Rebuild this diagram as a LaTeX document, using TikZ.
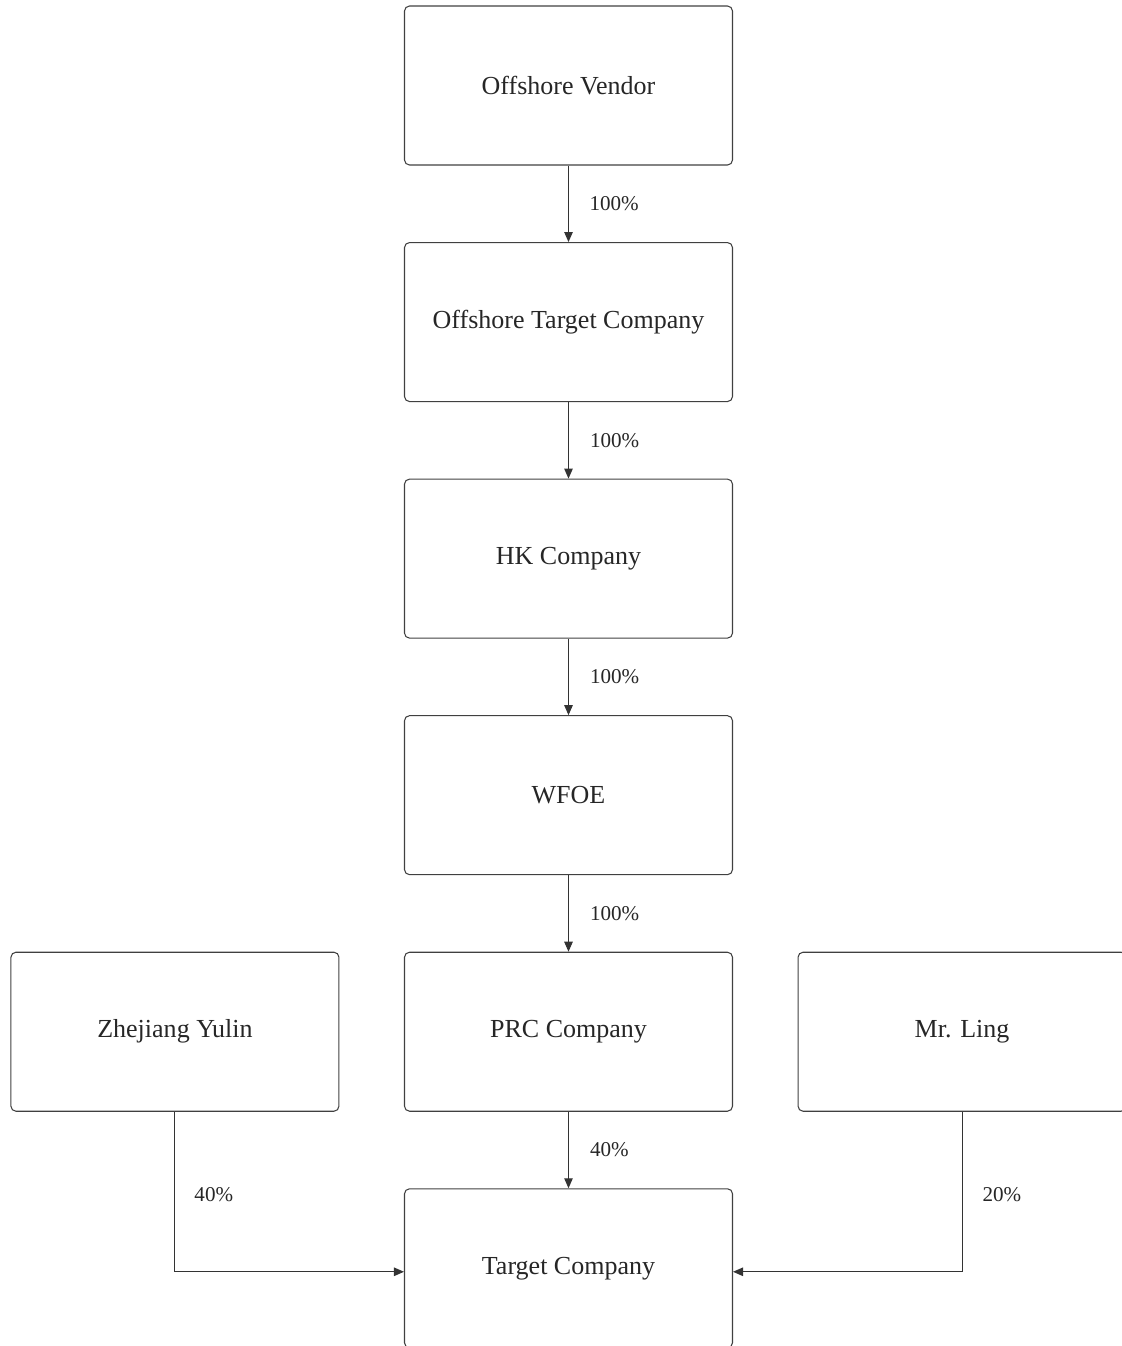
\documentclass[tikz,border=0pt]{standalone}
\usepackage{fontspec}
\setmainfont{Liberation Serif}
\usetikzlibrary{arrows.meta, positioning}

\begin{document}
\begin{tikzpicture}[node distance=1.53cm and 1.29cm,
    entity/.style={rectangle, draw=black!75, rounded corners=0.1cm, line width=0.6pt, minimum width=6.56cm, minimum height=3.18cm, align=center, font=\fontsize{14.8}{18}\selectfont, text=black!85},
    own/.style={-{Triangle[length=0.2cm, width=0.17cm]}, draw=black!80, line width=0.6pt},
    pct/.style={font=\fontsize{12}{14}\selectfont, text=black!85, inner sep=0pt, anchor=west}]
\useasboundingbox (0,0) rectangle (22.44,-26.92);
\node[entity] (vendor) at (11.37,-1.71) {Offshore Vendor};
\node[entity, below=of vendor] (otc) {Offshore Target Company};
\node[entity, below=of otc] (hk) {HK Company};
\node[entity, below=of hk] (wfoe) {WFOE};
\node[entity, below=of wfoe] (prc) {PRC Company};
\node[entity, left=of prc] (yulin) {Zhejiang Yulin};
\node[entity, right=of prc] (ling) {Mr. Ling};
\node[entity, below=of prc] (target) {Target Company};
\draw[own] (vendor) -- node[pct, xshift=0.41cm] {100\%} (otc);
\draw[own] (otc) -- node[pct, xshift=0.42cm] {100\%} (hk);
\draw[own] (hk) -- node[pct, xshift=0.42cm] {100\%} (wfoe);
\draw[own] (wfoe) -- node[pct, xshift=0.42cm] {100\%} (prc);
\draw[own] (prc) -- node[pct, xshift=0.42cm] {40\%} (target);
\draw[own] (yulin) |- node[pct, pos=0.26, xshift=0.38cm] {40\%} ([yshift=-0.07cm]target.west);
\draw[own] (ling) |- node[pct, pos=0.26, xshift=0.4cm] {20\%} ([yshift=-0.07cm]target.east);
\end{tikzpicture}
\end{document}
